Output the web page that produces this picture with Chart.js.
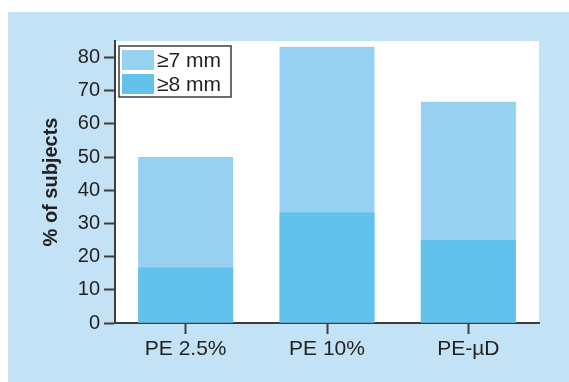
<!DOCTYPE html>
<html>
<head>
<meta charset="utf-8">
<script src="https://cdn.jsdelivr.net/npm/chart.js@4/dist/chart.umd.min.js"></script>
<style>
  body { margin: 0; background: #fff; }
  #panel { position: absolute; left: 8px; top: 12px; right: 0; bottom: 0; background: #c3e2f6; }
  #chart { position: absolute; left: 0; top: 0; }
</style>
</head>
<body>
<div id="panel"></div>
<canvas id="chart" width="569" height="382"></canvas>
<script>
const categories = ['PE 2.5%', 'PE 10%', 'PE-\u00b5D'];
const seriesLabels = ['\u22657 mm', '\u22658 mm'];
const ge7 = [50, 83.3, 66.7];
const ge8 = [16.7, 33.3, 25];
const yTicks = [0, 10, 20, 30, 40, 50, 60, 70, 80];

const lightBlue = '#97d1f2';
const darkBlue = '#62c2ec';
const axisColor = '#3d3d3d';
const textColor = '#231f20';
const fontFamily = '"Liberation Sans", Arial, Helvetica, sans-serif';

// white plot area
const plotBg = {
    id: 'plotBg',
    beforeDraw(chart) {
        const { ctx, chartArea: a } = chart;
        ctx.save();
        ctx.fillStyle = '#fff';
        ctx.fillRect(a.left, a.top, a.right - a.left, a.bottom - a.top);
        ctx.restore();
    }
};

// boxed legend inside the plot, top left
const boxLegend = {
    id: 'boxLegend',
    afterDraw(chart) {
        const { ctx, chartArea: a } = chart;
        const x = a.left + 4, y = a.top + 5;
        ctx.save();
        ctx.fillStyle = '#fff';
        ctx.fillRect(x, y, 112, 51);
        ctx.strokeStyle = axisColor;
        ctx.lineWidth = 1.5;
        ctx.strokeRect(x, y, 112, 51);
        ctx.font = '21px ' + fontFamily;
        ctx.textBaseline = 'middle';
        const colors = [lightBlue, darkBlue];
        seriesLabels.forEach((lbl, i) => {
            const ry = y + 4 + i * 24;
            ctx.fillStyle = colors[i];
            ctx.fillRect(x + 3, ry, 32, 20);
            ctx.fillStyle = textColor;
            ctx.fillText(lbl, x + 38, ry + 11);
        });
        ctx.restore();
    }
};

new Chart(document.getElementById('chart').getContext('2d'), {
    type: 'bar',
    data: {
        labels: categories,
        datasets: [
            { label: seriesLabels[0], data: ge7, backgroundColor: lightBlue, order: 1 },
            { label: seriesLabels[1], data: ge8, backgroundColor: darkBlue, order: 0 }
        ]
    },
    options: {
        responsive: false,
        animation: false,
        layout: { padding: { left: 0, top: 41, right: 30, bottom: 0 } },
        datasets: { bar: { barPercentage: 0.672, categoryPercentage: 1, borderWidth: 0 } },
        plugins: { legend: { display: false }, tooltip: { enabled: false } },
        scales: {
            x: {
                stacked: true,
                grid: { drawOnChartArea: false, offset: false, tickLength: 11, tickColor: axisColor, tickWidth: 2 },
                border: { color: axisColor, width: 2 },
                ticks: { color: textColor, font: { family: fontFamily, size: 21 }, padding: 3, maxRotation: 0 },
                afterFit(s) { s.height = 59; }
            },
            y: {
                stacked: false,
                min: 0,
                max: 85,
                afterBuildTicks(s) { s.ticks = yTicks.map(v => ({ value: v })); },
                grid: { drawOnChartArea: false, tickLength: 11, tickColor: axisColor, tickWidth: 2 },
                border: { color: axisColor, width: 2 },
                ticks: { color: textColor, font: { family: fontFamily, size: 20 }, padding: 4 },
                title: {
                    display: true,
                    text: '% of subjects',
                    color: textColor,
                    font: { family: fontFamily, size: 20, weight: 'bold' },
                    padding: { top: 39, bottom: 0 }
                },
                afterFit(s) { s.width = 115; }
            }
        }
    },
    plugins: [plotBg, boxLegend]
});
</script>
</body>
</html>
